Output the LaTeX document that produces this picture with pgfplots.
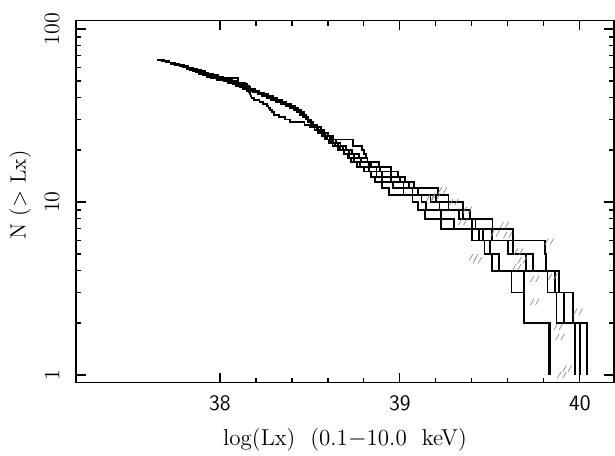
\documentclass[border=0pt]{standalone}
\usepackage{pgfplots}
\pgfplotsset{compat=1.18}
\usepackage{pgfplotstable}

% small "//" hatch dash used for the faint marks in the tail
\pgfdeclareplotmark{dslash}{%
  \pgfpathmoveto{\pgfqpoint{-2.2pt}{-1.6pt}}\pgfpathlineto{\pgfqpoint{-0.4pt}{1.6pt}}%
  \pgfpathmoveto{\pgfqpoint{0.4pt}{-1.6pt}}\pgfpathlineto{\pgfqpoint{2.2pt}{1.6pt}}%
  \pgfusepathqstroke}

% log(Lx) of the N-th brightest source, five realisations
\pgfplotstableread{
N  A      B      C      D      E
66 37.650 37.650 37.655 37.650 37.660
65 37.675 37.680 37.680 37.685 37.690
64 37.700 37.705 37.710 37.715 37.720
63 37.725 37.735 37.740 37.745 37.750
62 37.750 37.760 37.765 37.775 37.775
61 37.775 37.785 37.790 37.800 37.800
60 37.795 37.805 37.810 37.825 37.825
59 37.815 37.825 37.835 37.850 37.845
58 37.835 37.845 37.855 37.875 37.865
57 37.850 37.860 37.870 37.895 37.885
56 37.865 37.880 37.890 37.915 37.905
55 37.885 37.900 37.910 37.935 37.925
54 37.905 37.920 37.930 37.960 37.950
53 37.925 37.945 37.955 37.990 37.980
52 37.950 38.020 37.975 38.015 38.005
51 37.985 38.100 38.000 38.040 38.035
50 38.020 38.100 38.030 38.065 38.060
49 38.045 38.100 38.055 38.090 38.085
48 38.070 38.140 38.080 38.110 38.105
47 38.090 38.150 38.100 38.130 38.125
46 38.110 38.160 38.120 38.150 38.145
45 38.130 38.170 38.140 38.170 38.165
44 38.150 38.185 38.160 38.195 38.185
43 38.160 38.205 38.185 38.220 38.210
42 38.165 38.225 38.210 38.245 38.235
41 38.170 38.250 38.235 38.270 38.260
40 38.175 38.275 38.260 38.295 38.285
39 38.190 38.300 38.285 38.320 38.310
38 38.220 38.325 38.310 38.345 38.335
37 38.240 38.350 38.340 38.370 38.360
36 38.260 38.375 38.365 38.395 38.385
35 38.270 38.400 38.390 38.415 38.405
34 38.280 38.420 38.410 38.435 38.425
33 38.290 38.435 38.430 38.450 38.445
32 38.300 38.450 38.445 38.465 38.460
31 38.330 38.465 38.460 38.478 38.475
30 38.360 38.480 38.475 38.490 38.490
29 38.390 38.495 38.490 38.500 38.505
28 38.470 38.510 38.505 38.515 38.520
27 38.500 38.525 38.520 38.530 38.540
26 38.525 38.540 38.540 38.545 38.560
25 38.545 38.555 38.560 38.565 38.580
24 38.565 38.575 38.585 38.585 38.600
23 38.585 38.595 38.630 38.610 38.620
22 38.605 38.615 38.740 38.630 38.645
21 38.625 38.640 38.740 38.655 38.670
20 38.655 38.665 38.790 38.685 38.700
19 38.690 38.690 38.800 38.715 38.735
18 38.715 38.710 38.810 38.745 38.775
17 38.730 38.745 38.820 38.785 38.820
16 38.760 38.780 38.840 38.830 38.885
15 38.800 38.830 38.870 38.890 38.950
14 38.840 38.870 38.900 38.950 38.990
13 38.860 38.900 38.950 39.000 39.030
12 38.900 38.960 39.020 39.050 39.080
11 38.940 39.020 39.070 39.100 39.210
10 39.070 39.120 39.170 39.200 39.270
9  39.100 39.144 39.220 39.270 39.350
8  39.140 39.230 39.330 39.350 39.390
7  39.230 39.300 39.420 39.400 39.515
6  39.400 39.440 39.460 39.510 39.630
5  39.470 39.500 39.630 39.600 39.805
4  39.510 39.550 39.740 39.700 39.810
3  39.620 39.690 39.820 39.860 39.885
2  39.690 39.690 39.870 39.910 39.960
1  39.830 39.835 39.975 40.000 40.040
}\lumfn

\begin{document}
\begin{tikzpicture}
  \begin{axis}[
    scale only axis,
    width=269pt, height=181pt,
    xmin=37.2, xmax=40.19,
    ymode=log, ymin=0.905, ymax=112,
    xtick={38,39,40}, xticklabels={38,39,40},
    minor x tick num=4,
    ytick={1,10,100}, yticklabels={1,10,100},
    tick align=inside,
    major tick length=5pt, minor tick length=2.5pt,
    axis line style={line width=0.8pt},
    every tick/.style={black, line width=0.6pt},
    xticklabel style={font=\sffamily\fontsize{11}{13}\selectfont, anchor=center},
    xticklabel shift=10.5pt,
    yticklabel style={font=\fontsize{11}{13}\selectfont, rotate=90, anchor=center},
    yticklabel shift=12pt,
    xlabel={log(Lx)\ \ (0.1$-$10.0\ \ keV)},
    ylabel={N\ ($>$\ Lx)},
    xlabel style={font=\fontsize{11.5}{13}\selectfont,
      at={(axis description cs:0.5,-0.159)}, anchor=center},
    ylabel style={font=\fontsize{11}{13}\selectfont,
      at={(axis description cs:-0.104,0.518)}, anchor=center},
  ]
    \addplot[const plot, black, line width=0.9pt] table[x=A, y=N] {\lumfn};
    \addplot[const plot, black, line width=0.9pt] table[x=B, y=N] {\lumfn};
    \addplot[const plot, black, line width=0.9pt] table[x=C, y=N] {\lumfn};
    \addplot[const plot, black, line width=0.9pt] table[x=D, y=N] {\lumfn};
    \addplot[const plot, black, line width=0.9pt] table[x=E, y=N] {\lumfn};

    % faint hatch dashes
    \addplot[only marks, mark=dslash, black!45, mark options={line width=0.35pt}]
    coordinates {
      (39.237,11.7) (39.20,10.8) (39.17,10.5) (39.376,9.0) (39.35,7.7)
      (39.58,7.35) (39.53,6.6) (39.60,6.45) (39.83,5.9) (39.41,4.8)
      (39.66,5.17) (39.68,4.6) (39.65,4.2) (39.75,3.6) (39.85,3.7)
      (39.75,2.65) (39.99,2.32) (39.88,1.9) (39.89,1.66) (39.93,1.09)
      (39.90,1.0) (39.43,4.6) (39.30,10.0)
    };

    \coordinate (bl) at (rel axis cs:0,0);
    \coordinate (tr) at (rel axis cs:1,1);
  \end{axis}
  \pgfresetboundingbox
  \path ([shift={(-38pt,-36.25pt)}]bl) rectangle ([shift={(0.5pt,10.25pt)}]tr);
\end{tikzpicture}
\end{document}
